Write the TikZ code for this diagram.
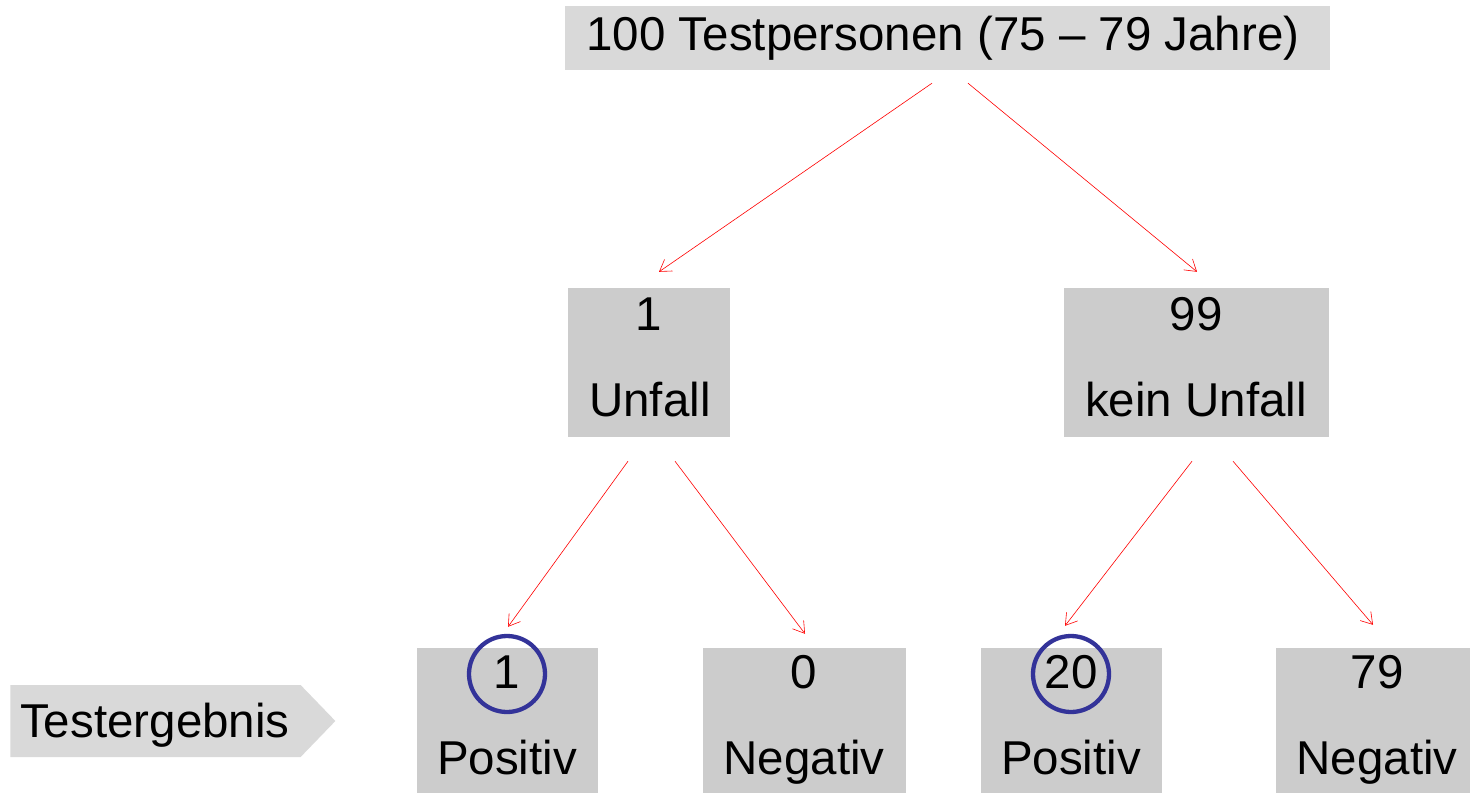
\documentclass[tikz,border=0pt]{standalone}
\usepackage{fontspec}
\setmainfont{Liberation Sans}
\usetikzlibrary{arrows.meta,shapes.symbols}
\definecolor{boxA}{HTML}{D9D9D9}
\definecolor{boxB}{HTML}{CCCCCC}
\definecolor{ringblue}{RGB}{51,51,153}
\begin{document}
\begin{tikzpicture}[x=1pt,y=-1pt,
  boxtop/.style={fill=boxA,draw=none,rectangle,inner sep=0pt},
  boxmid/.style={fill=boxB,draw=none,rectangle,inner sep=0pt},
  txt/.style={anchor=base,inner sep=0pt,font=\fontsize{47.5}{56}\selectfont},
  arr/.style={draw=red,line width=0.6pt,-{Straight Barb[length=11pt,width=14pt,line width=0.6pt]}},
  ring/.style={draw=ringblue,line width=4.3pt,circle,minimum size=76pt,inner sep=0pt}
]
\useasboundingbox (0,0) rectangle (1470,793);
% boxes
\node[boxtop,minimum width=765pt,minimum height=64pt] (top) at (947.5,38) {};
\node[boxmid,minimum width=162pt,minimum height=149pt] (unf) at (649,362.5) {};
\node[boxmid,minimum width=265pt,minimum height=149pt] (kein) at (1196.5,362.5) {};
\node[boxmid,minimum width=181pt,minimum height=145pt] (p1) at (507.5,720.5) {};
\node[boxmid,minimum width=203pt,minimum height=145pt] (n1) at (804.5,720.5) {};
\node[boxmid,minimum width=181pt,minimum height=145pt] (p2) at (1071.5,720.5) {};
\node[boxmid,minimum width=194pt,minimum height=145pt] (n2) at (1373,720.5) {};
\node[signal,signal to=east,signal pointer angle=92,fill=boxA,draw=none,inner sep=0pt,minimum width=325pt,minimum height=72pt] (tg) at (155.5,721) {};
% texts
\node[txt] (ttop) at (943,50) {100 Testpersonen (75 – 79 Jahre)};
\node[txt] (tunf1) at (649,330) {1};
\node[txt] (tunf2) at (650,416) {Unfall};
\node[txt] (tkein1) at (1196,330) {99};
\node[txt] (tkein2) at (1196,416) {kein Unfall};
\node[txt] (tp1a) at (507,688) {1};
\node[txt] (tp1b) at (507,774) {Positiv};
\node[txt] (tn1a) at (804,688) {0};
\node[txt] (tn1b) at (804,774) {Negativ};
\node[txt] (tp2a) at (1071,688) {20};
\node[txt] (tp2b) at (1071,774) {Positiv};
\node[txt] (tn2a) at (1377,688) {79};
\node[txt] (tn2b) at (1377,774) {Negativ};
\node[txt,anchor=base west] (ttg) at (20,737) {Testergebnis};
% rings
\node[ring] (r1) at (507,674) {};
\node[ring] (r2) at (1071,674) {};
% connectors
\draw[arr] ([shift={(-15.5,13)}]top.south) -- ([shift={(10,-16)}]unf.north);
\draw[arr] ([shift={(20.5,13)}]top.south) -- ([shift={(0.5,-16)}]kein.north);
\draw[arr] ([shift={(-21,24)}]unf.south) -- ([shift={(0.5,-21)}]p1.north);
\draw[arr] ([shift={(26,24)}]unf.south) -- ([shift={(0.5,-14)}]n1.north);
\draw[arr] ([shift={(-4.5,24)}]kein.south) -- ([shift={(-6.5,-22)}]p2.north);
\draw[arr] ([shift={(36.5,24)}]kein.south) -- ([shift={(0,-23)}]n2.north);
\end{tikzpicture}
\end{document}
